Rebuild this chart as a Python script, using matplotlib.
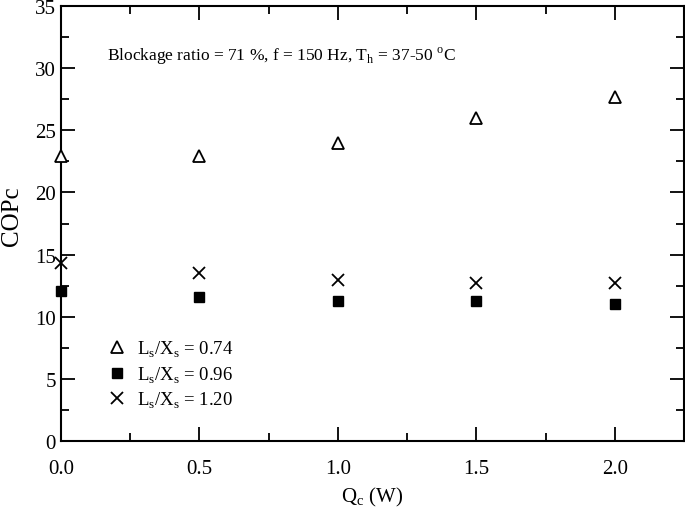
import matplotlib
matplotlib.use("Agg")
import matplotlib.pyplot as plt
from matplotlib.ticker import MultipleLocator

plt.rcParams['font.family'] = ['Liberation Serif', 'DejaVu Serif']
plt.rcParams['mathtext.fontset'] = 'custom'
plt.rcParams['mathtext.rm'] = 'Liberation Serif'

qc = [0.0, 0.5, 1.0, 1.5, 2.0]
cop_074 = [22.9, 22.9, 24.0, 26.0, 27.7]
cop_096 = [12.1, 11.6, 11.3, 11.3, 11.0]
cop_120 = [14.35, 13.5, 12.95, 12.75, 12.7]
labels = [r'L$_\mathrm{s}$/X$_\mathrm{s}$ = 0.74',
          r'L$_\mathrm{s}$/X$_\mathrm{s}$ = 0.96',
          r'L$_\mathrm{s}$/X$_\mathrm{s}$ = 1.20']

fig = plt.figure(figsize=(6.85, 5.1), dpi=100)
ax = fig.add_axes([0.089, 0.1333, 0.9095, 0.853])

ax.plot(qc, cop_074, linestyle='none', marker='^', markersize=8, markerfacecolor='white',
        markeredgecolor='black', markeredgewidth=1.3, label=labels[0], clip_on=False, zorder=5)
ax.plot(qc, cop_096, linestyle='none', marker='s', markersize=7, color='black',
        label=labels[1], clip_on=False, zorder=5)
ax.plot(qc, cop_120, linestyle='none', marker='x', markersize=8, color='black',
        markeredgewidth=1.3, label=labels[2], clip_on=False, zorder=5)

ax.set_xlim(0, 2.25)
ax.set_ylim(0, 35)
ax.xaxis.set_major_locator(MultipleLocator(0.5))
ax.xaxis.set_minor_locator(MultipleLocator(0.25))
ax.yaxis.set_major_locator(MultipleLocator(5))
ax.yaxis.set_minor_locator(MultipleLocator(2.5))
ax.xaxis.set_major_formatter(matplotlib.ticker.FormatStrFormatter('%.1f'))
ax.tick_params(which='both', direction='in', top=True, right=True, labelsize=15, width=1.3)
ax.tick_params(which='major', length=10)
ax.tick_params(which='minor', length=6)
ax.tick_params(axis='x', pad=13)
for s in ax.spines.values():
    s.set_linewidth(1.5)

ax.set_xlabel(r'Q$_\mathrm{c}$ (W)', fontsize=15, labelpad=5)
ax.set_ylabel('COPc', fontsize=18)
ax.yaxis.set_label_coords(-0.061, 0.518)

ax.text(0.166, 31.0, r'Blockage ratio = 71 %, f = 150 Hz, T$_\mathrm{h}$ = 37-50 $^\mathrm{o}$C',
        fontsize=12.5, va='center')

ax.legend(loc='upper left', bbox_to_anchor=(0.063, 0.252), borderaxespad=0, frameon=False,
          fontsize=13.5, handletextpad=0.55, labelspacing=0.27, handlelength=1.0)

fig.savefig('out.png', dpi=100)
